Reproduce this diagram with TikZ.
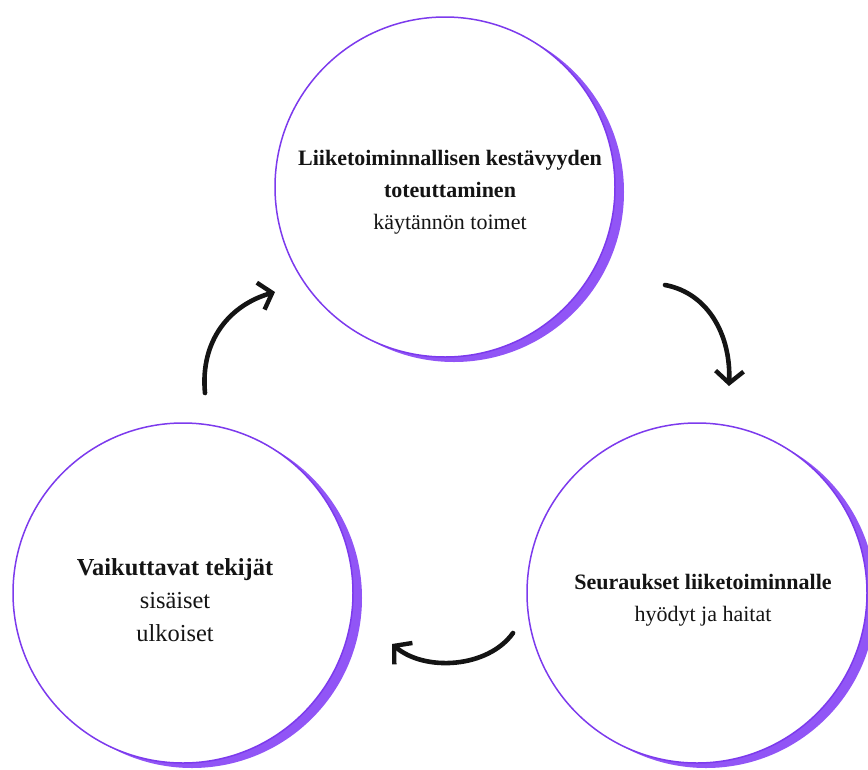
\documentclass[tikz,border=0pt]{standalone}
\usepackage{fontspec}
\setmainfont{Liberation Serif}
\usetikzlibrary{arrows.meta,calc}
\definecolor{ring}{RGB}{124,58,237}
\definecolor{moon}{RGB}{145,85,246}
\definecolor{ink}{RGB}{20,20,20}
\tikzset{
  bubble/.style={circle,draw=ring,line width=1.5pt,fill=white,minimum size=340pt,inner sep=0pt},
  txt/.style={align=center,text=ink,font=\fontsize{22}{32}\selectfont},
  bigtxt/.style={txt,font=\fontsize{24.4}{33}\selectfont},
  arr/.style={line width=4.6pt,line cap=round,ink,-{Straight Barb[length=12pt,width=28pt,line width=4.4pt]}},
}
\begin{document}
\begin{tikzpicture}[x=1pt,y=-1pt]
\useasboundingbox (0,0) rectangle (868,769);
\coordinate (c1) at (445,187);
\coordinate (c2) at (697,593);
\coordinate (c3) at (183,593);
\foreach \c in {c1,c2,c3}{
  \fill[moon] ($(\c)+(9,5)$) circle[radius=170];
}
\node[bubble] (top) at (c1) {};
\node[bubble] (right) at (c2) {};
\node[bubble] (left) at (c3) {};
\node[txt] (ttop) at ($(top.center)+(5,5)$) {\textbf{Liiketoiminnallisen kestävyyden}\\\textbf{toteuttaminen}\\käytännön toimet};
\node[txt] (tright) at ($(right.center)+(6,7)$) {\textbf{Seuraukset liiketoiminnalle}\\hyödyt ja haitat};
\node[bigtxt] (tleft) at ($(left.center)+(-8,7)$) {\textbf{Vaikuttavat tekijät}\\sisäiset\\ulkoiset};
\coordinate (a1s) at (205,393);
\coordinate (a1e) at (275,292);
\coordinate (a2s) at (665,285);
\coordinate (a2e) at (729,386);
\coordinate (a3s) at (513,633);
\coordinate (a3e) at (392,644);
\draw[arr] (a1s) .. controls (200,340) and (230,305) .. (a1e);
\draw[arr] (a2s) .. controls (708,293) and (731,335) .. (a2e);
\draw[arr] (a3s) .. controls (488,668) and (425,672) .. (a3e);
\end{tikzpicture}
\end{document}
